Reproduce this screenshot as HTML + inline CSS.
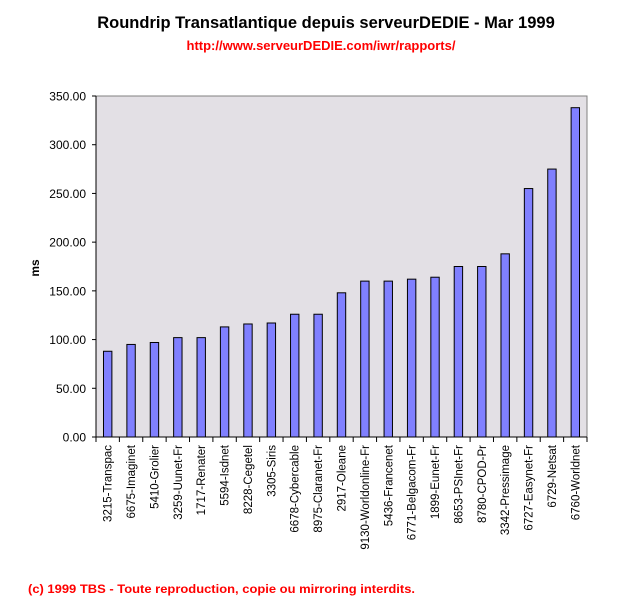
<!DOCTYPE html>
<html><head><style>
body{margin:0;background:#fff;width:642px;height:600px;overflow:hidden;font-family:"Liberation Sans",Arial,sans-serif}
</style></head><body>
<svg width="642" height="600" xmlns="http://www.w3.org/2000/svg" font-family="Liberation Sans, Arial, sans-serif">
<text x="326" y="28" text-anchor="middle" font-size="16.5" font-weight="bold">Roundrip Transatlantique depuis serveurDEDIE - Mar 1999</text>
<text x="321" y="50" text-anchor="middle" font-size="13" font-weight="bold" fill="#ff0000">http://www.serveurDEDIE.com/iwr/rapports/</text>
<rect x="96" y="96" width="491" height="341" fill="#e3e0e5" stroke="#808080" stroke-width="1"/>
<g id="yax" font-size="12" text-anchor="end"></g>
<g id="bars"></g>
<g id="labs" font-size="11.5"></g>
<line x1="96" y1="96" x2="96" y2="437" stroke="#000"/>
<line x1="96" y1="437" x2="587" y2="437" stroke="#000"/>
<g id="ticks" stroke="#000"></g>
<text transform="translate(39,268) rotate(-90)" text-anchor="middle" font-size="12" font-weight="bold">ms</text>
<text x="28" y="593" font-size="12" font-weight="bold" fill="#ff0000" textLength="387" lengthAdjust="spacingAndGlyphs">(c) 1999 TBS - Toute reproduction, copie ou mirroring interdits.</text>
</svg>
<script>
var ns="http://www.w3.org/2000/svg";
function el(p,t,a,txt){var e=document.createElementNS(ns,t);for(var k in a)e.setAttribute(k,a[k]);if(txt)e.textContent=txt;document.getElementById(p).appendChild(e);}
for(var v=0;v<=350;v+=50){var y=437-v*341/350;el("ticks","line",{x1:92,y1:y,x2:96,y2:y});el("yax","text",{x:86,y:y+4.5},v.toFixed(2));}
var d=[["3215-Transpac",88],["6675-Imaginet",95],["5410-Grolier",97],["3259-Uunet-Fr",102],["1717-Renater",102],["5594-Isdnet",113],["8228-Cegetel",116],["3305-Siris",117],["6678-Cybercable",126],["8975-Claranet-Fr",126],["2917-Oleane",148],["9130-Worldonline-Fr",160],["5436-Francenet",160],["6771-Belgacom-Fr",162],["1899-Eunet-Fr",164],["8653-PSInet-Fr",175],["8780-CPOD-Pr",175],["3342-Pressimage",188],["6727-Easynet-Fr",255],["6729-Netsat",275],["6760-Worldnet",338]];
var w=491/21;
for(var i=0;i<=21;i++){var x=96+i*w;el("ticks","line",{x1:x,y1:437,x2:x,y2:442});}
d.forEach(function(r,i){var c=96+(i+0.5)*w;var h=r[1]*341/350;
el("bars","rect",{x:c-4.2,y:437-h,width:8.4,height:h,fill:"#8080ff",stroke:"#000","stroke-width":1});
el("labs","text",{transform:"translate("+(c+4)+",445) rotate(-90)","text-anchor":"end"},r[0]);});
</script>
</body></html>
